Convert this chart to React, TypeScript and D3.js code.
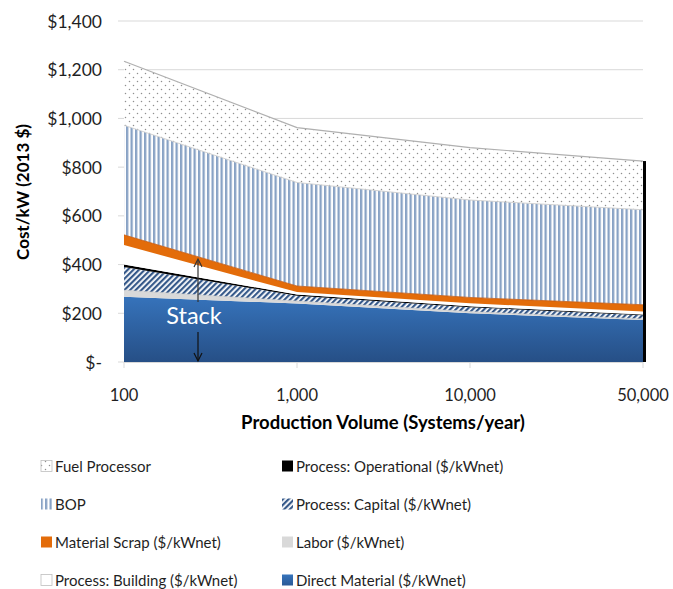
import React from "react";
import * as d3 from "d3";

const categories = ["100", "1,000", "10,000", "50,000"];
const directMaterial = [268, 240, 200, 172];
const labor = [27, 10, 7, 5];
const processCapital = [95, 22, 18, 15];
const processOperational = [10, 5, 4, 3];
const processBuilding = [80, 10, 12, 12];
const materialScrap = [42, 25, 24, 28];
const bop = [450, 425, 400, 390];
const fuelProcessor = [263, 225, 215, 200];
const yTicks = [0, 200, 400, 600, 800, 1000, 1200, 1400];

const keys = ["dm", "labor", "cap", "op", "bldg", "scrap", "bop", "fp"];
const series: Record<string, number[]> = {
  dm: directMaterial,
  labor: labor,
  cap: processCapital,
  op: processOperational,
  bldg: processBuilding,
  scrap: materialScrap,
  bop: bop,
  fp: fuelProcessor,
};

const legendItems = [
  { key: "fp", label: "Fuel Processor" },
  { key: "op", label: "Process: Operational ($/kWnet)" },
  { key: "bop", label: "BOP" },
  { key: "cap", label: "Process: Capital ($/kWnet)" },
  { key: "scrap", label: "Material Scrap ($/kWnet)" },
  { key: "labor", label: "Labor ($/kWnet)" },
  { key: "bldg", label: "Process: Building ($/kWnet)" },
  { key: "dm", label: "Direct Material ($/kWnet)" },
];

const fills: Record<string, string> = {
  fp: "url(#dots)",
  bop: "url(#vstripes)",
  scrap: "#e36c0a",
  bldg: "#ffffff",
  op: "#000000",
  cap: "url(#hatch)",
  labor: "#d9d9d9",
  dm: "url(#dmGrad)",
};

const FONT = "Lato, 'Open Sans', sans-serif";

export default function App() {
  const W = 673;
  const H = 589;
  const x = d3.scalePoint<string>().domain(categories).range([124, 643]);
  const y = d3.scaleLinear().domain([0, 1400]).range([362, 21]);

  const table = categories.map((c, i) => {
    const row: any = { cat: c };
    keys.forEach((k) => (row[k] = series[k][i]));
    return row;
  });
  const stacked = d3.stack<any>().keys(keys)(table);
  const area = d3
    .area<any>()
    .x((d) => x(d.data.cat) as number)
    .y0((d) => y(d[0]))
    .y1((d) => y(d[1]));
  const topLine = d3
    .line<any>()
    .x((d) => x(d.data.cat) as number)
    .y((d) => y(d[1]));

  const lastX = x(categories[categories.length - 1]) as number;
  const total = stacked[stacked.length - 1][categories.length - 1][1];

  const arrowX = 198;

  return (
    <svg
      width={W}
      height={H}
      style={{ position: "absolute", left: 0, top: 0, background: "#fff" }}
      fontFamily={FONT}
    >
      <defs>
        <pattern id="dots" width="8" height="8" patternUnits="userSpaceOnUse">
          <rect width="8" height="8" fill="#fff" />
          <circle cx="1.5" cy="1.5" r="0.75" fill="#8f8f8f" />
          <circle cx="5.5" cy="5.5" r="0.75" fill="#8f8f8f" />
        </pattern>
        <pattern id="vstripes" width="4.5" height="10" patternUnits="userSpaceOnUse">
          <rect width="4.5" height="10" fill="#fff" />
          <rect x="0" width="2.3" height="10" fill="#88a2c5" />
        </pattern>
        <pattern
          id="hatch"
          width="4"
          height="4"
          patternUnits="userSpaceOnUse"
          patternTransform="rotate(45)"
        >
          <rect width="4" height="4" fill="#fff" />
          <rect width="2.2" height="4" fill="#36598a" />
        </pattern>
        <linearGradient id="dmGrad" x1="0" y1="0" x2="0" y2="1">
          <stop offset="0" stopColor="#3673bb" />
          <stop offset="1" stopColor="#264f86" />
        </linearGradient>
        <linearGradient id="dmGradLeg" x1="0" y1="0" x2="0" y2="1">
          <stop offset="0" stopColor="#3673bb" />
          <stop offset="1" stopColor="#2a5a97" />
        </linearGradient>
      </defs>

      {/* gridlines */}
      {yTicks.map((t) => (
        <line
          key={t}
          x1={118}
          x2={lastX}
          y1={y(t)}
          y2={y(t)}
          stroke="#d9d9d9"
          strokeWidth={1}
        />
      ))}

      {/* areas */}
      {stacked.map((s) => (
        <path key={s.key} d={area(s) as string} fill={fills[s.key]} />
      ))}
      {/* outlines */}
      <path
        d={topLine(stacked[7]) as string}
        fill="none"
        stroke="#b0b0b0"
        strokeWidth={1.2}
      />
      <path
        d={topLine(stacked[6]) as string}
        fill="none"
        stroke="#c8c8c8"
        strokeWidth={0.8}
      />
      <path
        d={topLine(stacked[5]) as string}
        fill="none"
        stroke="#c55a11"
        strokeWidth={0.8}
      />
      <path
        d={topLine(stacked[1]) as string}
        fill="none"
        stroke="#c8c8c8"
        strokeWidth={0.6}
      />

      {/* right black line */}
      <line
        x1={lastX + 1.5}
        x2={lastX + 1.5}
        y1={y(total)}
        y2={y(0)}
        stroke="#000"
        strokeWidth={3}
      />

      {/* x axis */}
      <line x1={124} x2={lastX} y1={y(0) + 0.5} y2={y(0) + 0.5} stroke="#d9d9d9" />
      {categories.map((c) => (
        <line
          key={c}
          x1={x(c)}
          x2={x(c)}
          y1={y(0)}
          y2={y(0) + 6}
          stroke="#d9d9d9"
        />
      ))}
      {categories.map((c) => (
        <text
          key={c}
          x={x(c)}
          y={395}
          textAnchor="middle"
          dominantBaseline="central"
          fontSize={16.5}
          fill="#1f1f1f"
        >
          {c}
        </text>
      ))}
      <text
        x={383}
        y={422}
        textAnchor="middle"
        dominantBaseline="central"
        fontSize={18.5}
        fontWeight="bold"
        fill="#000"
      >
        Production Volume (Systems/year)
      </text>

      {/* y axis labels */}
      {yTicks.map((t) => (
        <text
          key={t}
          x={102}
          y={y(t)}
          textAnchor="end"
          dominantBaseline="central"
          fontSize={17.5}
          fill="#1f1f1f"
        >
          {t === 0 ? "$-" : d3.format("$,")(t)}
        </text>
      ))}
      <text
        transform={`translate(22,192) rotate(-90)`}
        textAnchor="middle"
        dominantBaseline="central"
        fontSize={17}
        fontWeight="bold"
        fill="#000"
      >
        Cost/kW (2013 $)
      </text>

      {/* Stack annotation */}
      <line x1={arrowX} x2={arrowX} y1={260} y2={302} stroke="#333" strokeWidth={1.2} />
      <path
        d={`M${arrowX - 4},${267} L${arrowX},${259} L${arrowX + 4},${267}`}
        fill="none"
        stroke="#333"
        strokeWidth={1.2}
      />
      <line x1={arrowX} x2={arrowX} y1={332} y2={361} stroke="#111" strokeWidth={1.2} />
      <path
        d={`M${arrowX - 4},${353} L${arrowX},${361} L${arrowX + 4},${353}`}
        fill="none"
        stroke="#111"
        strokeWidth={1.2}
      />
      <text x={194} y={315} textAnchor="middle" dominantBaseline="central" fontSize={23.5} fill="#fff">
        Stack
      </text>

      {/* legend */}
      {legendItems.map((item, i) => {
        const col = i % 2;
        const row = Math.floor(i / 2);
        const sx = col === 0 ? 41 : 282;
        const cy = 466 + row * 38;
        const fill = item.key === "dm" ? "url(#dmGradLeg)" : fills[item.key];
        const bordered = item.key === "fp" || item.key === "bldg";
        return (
          <g key={item.key}>
            <rect
              x={sx}
              y={cy - 5.5}
              width={11}
              height={11}
              fill={fill}
              stroke={bordered ? "#bfbfbf" : "none"}
              strokeWidth={0.8}
            />
            <text
              x={sx + 14}
              y={cy}
              dominantBaseline="central"
              fontSize={15}
              fill="#1f1f1f"
            >
              {item.label}
            </text>
          </g>
        );
      })}
    </svg>
  );
}
